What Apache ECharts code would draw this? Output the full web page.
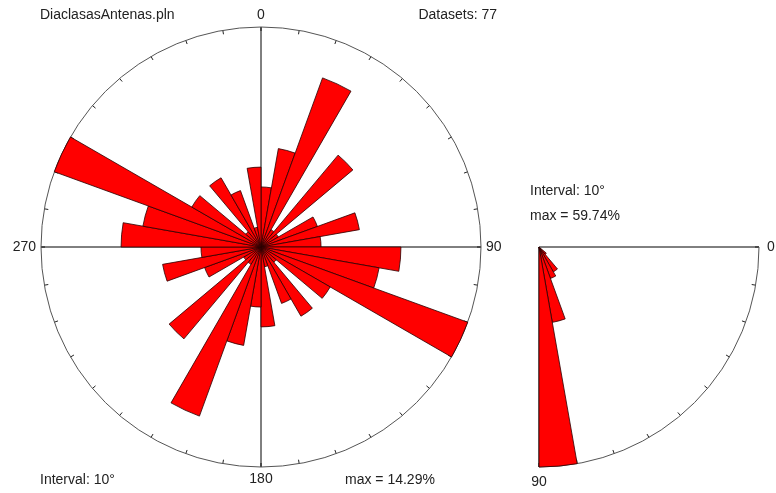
<!DOCTYPE html>
<html>
<head>
<meta charset="utf-8">
<script src="https://cdn.jsdelivr.net/npm/echarts@6/dist/echarts.min.js"></script>
<style>
  html, body { margin: 0; padding: 0; background: #ffffff; }
  #chart { width: 776px; height: 493px; }
</style>
</head>
<body>
<div id="chart"></div>
<script>
// Strike rose: 10° sectors clockwise from north, share of all planes (%)
const strikeSectors = ['0', '10', '20', '30', '40', '50', '60', '70', '80',
  '90', '100', '110', '120', '130', '140', '150', '160', '170',
  '180', '190', '200', '210', '220', '230', '240', '250', '260',
  '270', '280', '290', '300', '310', '320', '330', '340', '350'];
const strikePercent = [3.90, 6.49, 11.69, 1.30, 7.79, 1.30, 3.90, 6.49, 3.90,
  9.09, 7.79, 14.29, 5.19, 1.30, 5.19, 3.90, 1.30, 5.19,
  3.90, 6.49, 11.69, 1.30, 7.79, 1.30, 3.90, 6.49, 3.90,
  9.09, 7.79, 14.29, 5.19, 1.30, 5.19, 3.90, 1.30, 5.19];
const strikeMax = 14.29;
const strikeTickLabels = ['0', '90', '180', '270'];

// Dip rose: 10° sectors from horizontal (0) to vertical (90), share of planes (%)
const dipSectors = ['0', '10', '20', '30', '40', '50', '60', '70', '80'];
const dipPercent = [0, 0, 0, 0, 2.60, 7.79, 9.09, 20.78, 59.74];
const dipMax = 59.74;
const dipTickLabels = ['0', '90'];

const fileName = 'DiaclasasAntenas.pln';
const datasetCount = 77;
const binWidth = 10;

const FONT = 'Liberation Sans, Arial, sans-serif';
const TEXT = '#222222';
const textStyle = { fontSize: 14, fontFamily: FONT, color: TEXT, fontWeight: 'normal', lineHeight: 16 };

const hiddenAxis = {
  axisLine: { show: false }, axisTick: { show: false },
  axisLabel: { show: false }, splitLine: { show: false }, splitArea: { show: false }
};

const barStyle = { color: '#ff0000', borderColor: '#2a0000', borderWidth: 0.8 };

const chart = echarts.init(document.getElementById('chart'), null, { renderer: 'canvas' });

chart.setOption({
  animation: false,
  backgroundColor: '#ffffff',
  title: [
    { text: fileName, left: 40, top: 7, padding: 0, textStyle },
    { text: 'Datasets: ' + datasetCount, right: 279, top: 7, padding: 0, textStyle },
    { text: 'Interval: ' + binWidth + '°', left: 40, top: 472, padding: 0, textStyle },
    { text: 'max = ' + strikeMax.toFixed(2) + '%', left: 345, top: 472, padding: 0, textStyle },
    { text: 'Interval: ' + binWidth + '°', left: 530, top: 183, padding: 0, textStyle },
    { text: 'max = ' + dipMax.toFixed(2) + '%', left: 530, top: 208, padding: 0, textStyle }
  ],
  polar: [
    { center: [261, 247], radius: 220 },
    { center: [261, 247], radius: 220 },
    { center: [539, 247], radius: 220 },
    { center: [539, 247], radius: 220 }
  ],
  angleAxis: [
    // bars of the strike rose
    Object.assign({ polarIndex: 0, type: 'category', data: strikeSectors,
      startAngle: 90, clockwise: true, boundaryGap: true }, hiddenAxis),
    // outer circle, 10° ticks and N-S / E-W cross
    { polarIndex: 1, type: 'value', min: 0, max: 360, interval: 90,
      startAngle: 90, clockwise: true, z: 1,
      axisLine: { show: true, lineStyle: { color: '#555555', width: 1 } },
      axisTick: { show: true, inside: true, length: 4, lineStyle: { color: '#222222', width: 1 } },
      minorTick: { show: true, splitNumber: 9, length: 4, lineStyle: { color: '#222222', width: 1 } },
      axisLabel: { show: true, margin: 5, fontSize: 14, fontFamily: FONT, color: TEXT,
        showMaxLabel: false,
        formatter: v => strikeTickLabels[strikeTickLabels.indexOf(String(v))] || '' },
      splitLine: { show: true, lineStyle: { color: '#000000', width: 1 } },
      splitArea: { show: false } },
    // bars of the dip quadrant
    Object.assign({ polarIndex: 2, type: 'category', data: dipSectors,
      startAngle: 0, endAngle: -90, clockwise: true, boundaryGap: true }, hiddenAxis),
    // quarter arc, ticks and bounding radii
    { polarIndex: 3, type: 'value', min: 0, max: 90, interval: 90,
      startAngle: 0, endAngle: -90, clockwise: true, z: 1,
      axisLine: { show: true, lineStyle: { color: '#555555', width: 1 } },
      axisTick: { show: true, inside: true, length: 4, lineStyle: { color: '#222222', width: 1 } },
      minorTick: { show: true, splitNumber: 9, length: 4, lineStyle: { color: '#222222', width: 1 } },
      axisLabel: { show: true, margin: 8, fontSize: 14, fontFamily: FONT, color: TEXT,
        formatter: v => dipTickLabels[dipTickLabels.indexOf(String(v))] || '' },
      splitLine: { show: true, lineStyle: { color: '#000000', width: 1 } },
      splitArea: { show: false } }
  ],
  radiusAxis: [
    Object.assign({ polarIndex: 0, type: 'value', min: 0, max: strikeMax }, hiddenAxis),
    Object.assign({ polarIndex: 1, type: 'value', min: 0, max: 1 }, hiddenAxis),
    Object.assign({ polarIndex: 2, type: 'value', min: 0, max: dipMax }, hiddenAxis),
    Object.assign({ polarIndex: 3, type: 'value', min: 0, max: 1 }, hiddenAxis)
  ],
  series: [
    { name: 'Strike', type: 'bar', coordinateSystem: 'polar', polarIndex: 0,
      data: strikePercent, barCategoryGap: '0%', itemStyle: barStyle, z: 2 },
    { name: 'Dip', type: 'bar', coordinateSystem: 'polar', polarIndex: 2,
      data: dipPercent, barCategoryGap: '0%', itemStyle: barStyle, z: 2 }
  ]
});
</script>
</body>
</html>
